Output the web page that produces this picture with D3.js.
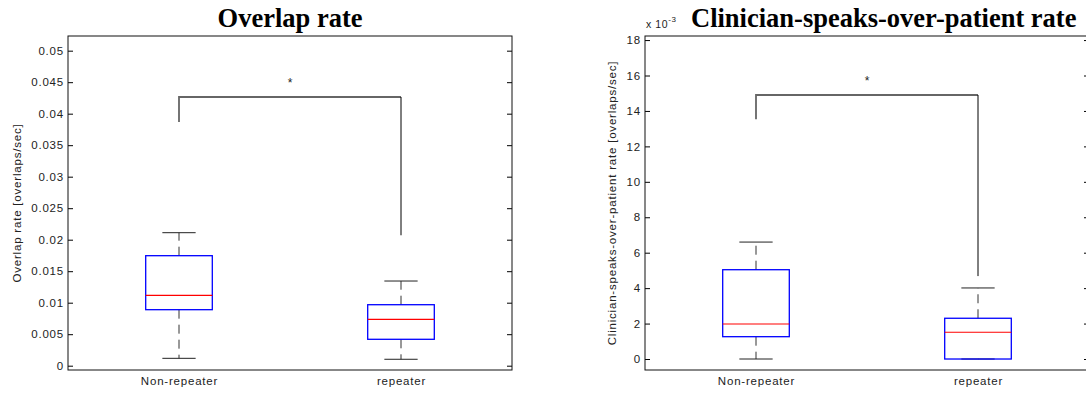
<!DOCTYPE html>
<html>
<head>
<meta charset="utf-8">
<script src="https://cdn.jsdelivr.net/npm/d3@7"></script>
<style>
  html, body { margin: 0; padding: 0; background: #fff; }
  svg { display: block; }
</style>
</head>
<body>
<script>
// groups on the x axis
const groups = ['Non-repeater', 'repeater'];

// box summaries per group: [lower whisker, q1, median, q3, upper whisker]
const overlapSummary = [
	[0.00117, 0.00889, 0.01117, 0.01746, 0.02111],
	[0.00102, 0.00419, 0.00736, 0.00968, 0.01344],
];
const speaksOverSummary = [
	[0.00, 1.26, 1.975, 5.04, 6.60],
	[0.00, 0.00, 1.51, 2.30, 4.01],
];

// significance bracket: [left leg end, bar level, right leg end]
const overlapBracket = [0.03868, 0.04265, 0.0207];
const speaksOverBracket = [13.53, 14.90, 4.68];

// y ticks and their labels
const overlapTicks = [0, 0.005, 0.01, 0.015, 0.02, 0.025, 0.03, 0.035, 0.04, 0.045, 0.05];
const overlapTickLabels = ['0', '0.005', '0.01', '0.015', '0.02', '0.025', '0.03', '0.035', '0.04', '0.045', '0.05'];
const speaksOverTicks = [0, 2, 4, 6, 8, 10, 12, 14, 16, 18];
const speaksOverTickLabels = ['0', '2', '4', '6', '8', '10', '12', '14', '16', '18'];

// axis limits
const overlapLim = [-0.000683, 0.05233];
const speaksOverLim = [-0.62, 18.23];

const W = 1086, H = 394;
const sans = '"Liberation Sans", Arial, Helvetica, sans-serif';
const serif = '"Liberation Serif", "Times New Roman", serif';

const svg = d3.select('body').append('svg')
	.attr('width', W)
	.attr('height', H);
svg.append('rect').attr('width', W).attr('height', H).attr('fill', '#fff');

function styleText(sel) {
	sel.attr('font-family', sans)
		.attr('font-size', '11.5px')
		.attr('letter-spacing', '0.8px')
		.attr('fill', '#222');
}

function drawPanel(p) {
	const g = svg.append('g');
	const x = d3.scaleLinear().domain([0.5, groups.length + 0.5]).range([p.x0, p.x1]);
	const y = d3.scaleLinear().domain(p.lim).range([p.y1, p.y0]);

	// left ticks + labels
	const yAxis = d3.axisLeft(y)
		.tickValues(p.ticks)
		.tickFormat((d, i) => p.tickLabels[i])
		.tickSizeInner(-5)
		.tickSizeOuter(0)
		.tickPadding(4);
	const ya = g.append('g').attr('transform', `translate(${p.x0},0)`).call(yAxis);
	ya.select('.domain').remove();
	ya.selectAll('text').call(styleText);

	// right ticks
	const yAxisR = d3.axisRight(y)
		.tickValues(p.ticks)
		.tickFormat('')
		.tickSizeInner(-5)
		.tickSizeOuter(0);
	const yr = g.append('g').attr('transform', `translate(${p.x1},0)`).call(yAxisR);
	yr.select('.domain').remove();

	// category labels
	const xAxis = d3.axisBottom(x)
		.tickValues(groups.map((d, i) => i + 1))
		.tickFormat((d, i) => groups[i])
		.tickSize(0)
		.tickPadding(7);
	const xa = g.append('g').attr('transform', `translate(0,${p.y1})`).call(xAxis);
	xa.select('.domain').remove();
	xa.selectAll('text').call(styleText);

	// frame
	g.append('rect')
		.attr('x', p.x0).attr('y', p.y0)
		.attr('width', p.x1 - p.x0).attr('height', p.y1 - p.y0)
		.attr('fill', 'none').attr('stroke', '#111').attr('stroke-width', 1);

	// boxes
	const bw = 0.15, cw = 0.075;
	const box = g.selectAll('.box').data(p.summary).enter().append('g').attr('class', 'box');
	box.append('line')
		.attr('x1', (d, i) => x(i + 1)).attr('x2', (d, i) => x(i + 1))
		.attr('y1', d => y(d[3])).attr('y2', d => y(d[4]))
		.attr('stroke', '#333').attr('stroke-dasharray', '9,6');
	box.append('line')
		.attr('x1', (d, i) => x(i + 1)).attr('x2', (d, i) => x(i + 1))
		.attr('y1', d => y(d[1])).attr('y2', d => y(d[0]))
		.attr('stroke', '#333').attr('stroke-dasharray', '9,6');
	box.append('line')
		.attr('x1', (d, i) => x(i + 1 - cw)).attr('x2', (d, i) => x(i + 1 + cw))
		.attr('y1', d => y(d[4])).attr('y2', d => y(d[4]))
		.attr('stroke', '#222');
	box.append('line')
		.attr('x1', (d, i) => x(i + 1 - cw)).attr('x2', (d, i) => x(i + 1 + cw))
		.attr('y1', d => y(d[0])).attr('y2', d => y(d[0]))
		.attr('stroke', '#222');
	box.append('rect')
		.attr('x', (d, i) => x(i + 1 - bw))
		.attr('y', d => y(d[3]))
		.attr('width', (d, i) => x(i + 1 + bw) - x(i + 1 - bw))
		.attr('height', d => y(d[1]) - y(d[3]))
		.attr('fill', 'none').attr('stroke', '#0000ff').attr('stroke-width', 1.3);
	box.append('line')
		.attr('x1', (d, i) => x(i + 1 - bw)).attr('x2', (d, i) => x(i + 1 + bw))
		.attr('y1', d => y(d[2])).attr('y2', d => y(d[2]))
		.attr('stroke', '#ff0000').attr('stroke-width', 1.2);

	// significance bracket
	const b = p.bracket;
	g.append('path')
		.attr('d', `M${x(1)},${y(b[0])}V${y(b[1])}H${x(2)}`)
		.attr('fill', 'none').attr('stroke', '#666').attr('stroke-width', 1.8);
	g.append('line')
		.attr('x1', x(2)).attr('x2', x(2))
		.attr('y1', y(b[1])).attr('y2', y(b[2]))
		.attr('stroke', '#000');
	g.append('text')
		.attr('x', x(1.5)).attr('y', y(b[1]) - 10)
		.attr('text-anchor', 'middle')
		.attr('font-family', sans).attr('font-size', '12px').attr('fill', '#222')
		.text('*');

	// title
	svg.append('text')
		.attr('x', p.titleX).attr('y', 27)
		.attr('text-anchor', p.titleAnchor)
		.attr('font-family', serif).attr('font-weight', 'bold')
		.attr('font-size', '26.5px').attr('fill', '#000')
		.text(p.title);

	// y label
	svg.append('text')
		.attr('transform', `translate(${p.yLabelX},${(p.y0 + p.y1) / 2}) rotate(-90)`)
		.attr('text-anchor', 'middle')
		.call(styleText)
		.text(p.yLabel);

	if (p.exponent) {
		const t = svg.append('text')
			.attr('x', p.x0 + 1).attr('y', 28)
			.attr('font-family', sans).attr('font-size', '10.5px')
			.attr('letter-spacing', '0.6px').attr('fill', '#222');
		t.append('tspan').text('x 10');
		t.append('tspan').attr('dy', -6).attr('font-size', '8px').text(p.exponent);
	}
}

drawPanel({
	x0: 68, x1: 512, y0: 36, y1: 370,
	lim: overlapLim,
	ticks: overlapTicks, tickLabels: overlapTickLabels,
	summary: overlapSummary, bracket: overlapBracket,
	title: 'Overlap rate', titleX: 290, titleAnchor: 'middle',
	yLabel: 'Overlap rate [overlaps/sec]', yLabelX: 20.5,
});

drawPanel({
	x0: 645, x1: 1089, y0: 36, y1: 370,
	lim: speaksOverLim,
	ticks: speaksOverTicks, tickLabels: speaksOverTickLabels,
	summary: speaksOverSummary, bracket: speaksOverBracket,
	title: 'Clinician-speaks-over-patient rate', titleX: 691, titleAnchor: 'start',
	yLabel: 'Clinician-speaks-over-patient rate [overlaps/sec]', yLabelX: 616,
	exponent: '-3',
});
</script>
</body>
</html>
